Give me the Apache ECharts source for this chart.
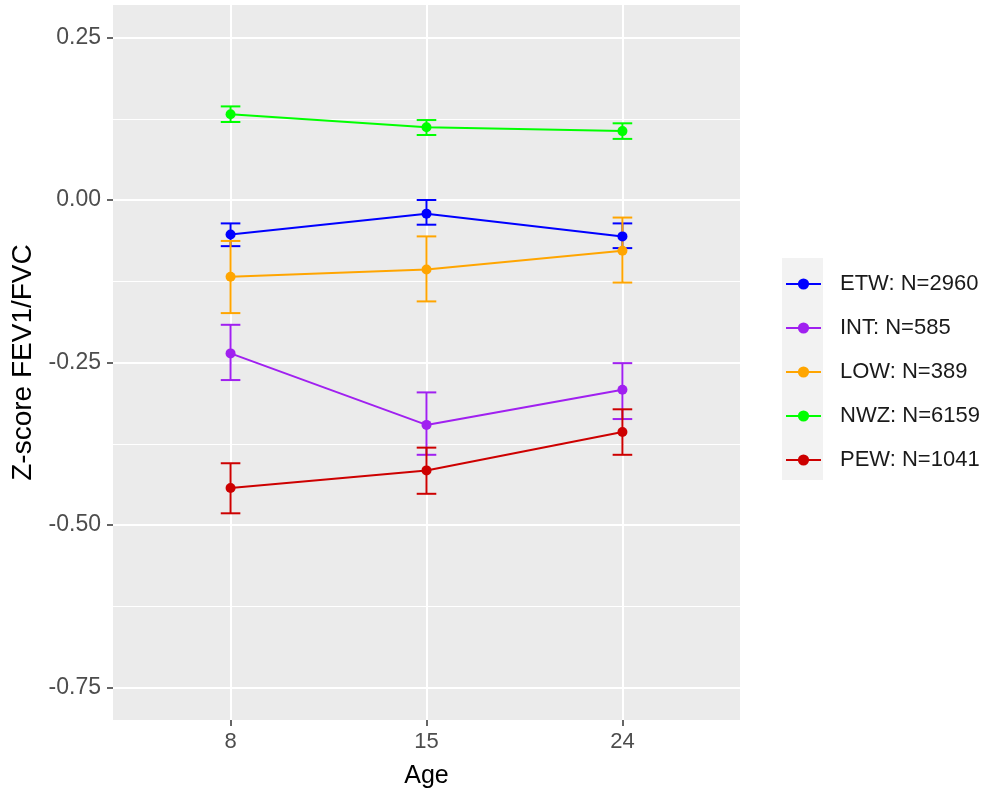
<!DOCTYPE html>
<html>
<head>
<meta charset="utf-8">
<script src="https://cdn.jsdelivr.net/npm/echarts@6/dist/echarts.min.js"></script>
<style>
html,body{margin:0;padding:0;background:#fff;}
#chart{width:988px;height:795px;}
</style>
</head>
<body>
<div id="chart"></div>
<script>
// ---- data ----
var ages = ['8', '15', '24'];
var groupNames = ['ETW: N=2960', 'INT: N=585', 'LOW: N=389', 'NWZ: N=6159', 'PEW: N=1041'];
var groupColors = ['#0000FF', '#A020F0', '#FFA500', '#00FF00', '#CD0000'];
var etwMean = [-0.053, -0.021, -0.056];
var etwLow  = [-0.071, -0.038, -0.074];
var etwHigh = [-0.036,  0.000, -0.036];
var intMean = [-0.236, -0.346, -0.292];
var intLow  = [-0.277, -0.392, -0.337];
var intHigh = [-0.192, -0.296, -0.251];
var lowMean = [-0.118, -0.107, -0.078];
var lowLow  = [-0.174, -0.156, -0.127];
var lowHigh = [-0.063, -0.056, -0.027];
var nwzMean = [0.132, 0.112, 0.106];
var nwzLow  = [0.120, 0.100, 0.094];
var nwzHigh = [0.144, 0.123, 0.118];
var pewMean = [-0.443, -0.416, -0.357];
var pewLow  = [-0.482, -0.452, -0.392];
var pewHigh = [-0.405, -0.381, -0.322];
var yTicks = [-0.75, -0.5, -0.25, 0, 0.25];
var yMinorTicks = [-0.625, -0.375, -0.125, 0.125];

var means = [etwMean, intMean, lowMean, nwzMean, pewMean];
var lows = [etwLow, intLow, lowLow, nwzLow, pewLow];
var highs = [etwHigh, intHigh, lowHigh, nwzHigh, pewHigh];

var chart = echarts.init(document.getElementById('chart'), null, {renderer: 'canvas'});

var FONT = '"Liberation Sans", Arial, sans-serif';
var series = [];
// error bars
groupNames.forEach(function (name, g) {
  var data = ages.map(function (a, i) { return [i + 1, lows[g][i], highs[g][i]]; });
  series.push({
    type: 'custom',
    name: name + ' (error)',
    xAxisIndex: 0, yAxisIndex: 0,
    z: 2,
    silent: true,
    color: groupColors[g],
    data: data,
    renderItem: function (params, api) {
      var x = api.value(0);
      var lo = api.coord([x, api.value(1)]);
      var hi = api.coord([x, api.value(2)]);
      var hw = api.size([0.1, 0])[0] / 2;
      var st = {stroke: groupColors[g], lineWidth: 2, fill: null};
      return {
        type: 'group',
        children: [
          {type: 'line', shape: {x1: lo[0], y1: lo[1], x2: hi[0], y2: hi[1]}, style: st},
          {type: 'line', shape: {x1: lo[0] - hw, y1: lo[1], x2: lo[0] + hw, y2: lo[1]}, style: st},
          {type: 'line', shape: {x1: hi[0] - hw, y1: hi[1], x2: hi[0] + hw, y2: hi[1]}, style: st}
        ]
      };
    }
  });
});
// lines + points
groupNames.forEach(function (name, g) {
  series.push({
    type: 'line',
    name: name,
    xAxisIndex: 0, yAxisIndex: 0,
    z: 3,
    data: ages.map(function (a, i) { return [i + 1, means[g][i]]; }),
    color: groupColors[g],
    symbol: 'circle',
    symbolSize: 10,
    showSymbol: true,
    lineStyle: {width: 2, color: groupColors[g]},
    itemStyle: {color: groupColors[g]},
    emphasis: {disabled: true},
    animation: false
  });
});

var option = {
  animation: false,
  backgroundColor: '#FFFFFF',
  grid: {left: 113, top: 5, width: 627, height: 715, show: true, backgroundColor: '#EBEBEB', borderWidth: 0, containLabel: false},
  xAxis: [{
    type: 'value',
    min: 0.4, max: 3.6,
    name: 'Age',
    nameLocation: 'middle',
    nameGap: 44,
    nameTextStyle: {fontFamily: FONT, fontSize: 25, color: '#000000'},
    axisLine: {show: false, onZero: false},
    axisTick: {show: true, customValues: [1, 2, 3], length: 6, lineStyle: {color: '#333333', width: 1.5}},
    axisLabel: {customValues: [1, 2, 3], formatter: function (v) { return ages[Math.round(v) - 1]; }, fontFamily: FONT, fontSize: 22, color: '#4D4D4D', margin: 11},
    splitLine: {show: true, lineStyle: {color: '#FFFFFF', width: 2}}
  }],
  yAxis: [{
    type: 'value',
    min: -0.8, max: 0.3,
    name: 'Z-score FEV1/FVC',
    nameLocation: 'middle',
    nameGap: 65,
    nameTextStyle: {fontFamily: FONT, fontSize: 28, color: '#000000'},
    axisLine: {show: false, onZero: false},
    axisTick: {show: true, customValues: yTicks, length: 6, lineStyle: {color: '#333333', width: 1.5}},
    axisLabel: {customValues: yTicks, formatter: function (v) { return v.toFixed(2); }, fontFamily: FONT, fontSize: 23, color: '#4D4D4D', margin: 12},
    splitLine: {show: true, lineStyle: {color: '#FFFFFF', width: 2}}
  }, {
    type: 'value',
    min: -0.8, max: 0.3,
    position: 'left',
    axisLine: {show: false, onZero: false},
    axisTick: {show: false, customValues: yMinorTicks},
    axisLabel: {show: false, customValues: yMinorTicks},
    splitLine: {show: true, lineStyle: {color: '#FFFFFF', width: 1}}
  }],
  legend: {
    orient: 'vertical',
    left: 785,
    top: 273,
    padding: 0,
    data: groupNames.map(function (n) { return {name: n}; }),
    itemWidth: 35,
    itemHeight: 14,
    itemGap: 22,
    selectedMode: false,
    textStyle: {fontFamily: FONT, fontSize: 22, color: '#1A1A1A', padding: [0, 0, 0, 14]}
  },
  graphic: [{
    type: 'rect',
    left: 782, top: 258,
    shape: {width: 41, height: 222},
    style: {fill: '#F2F2F2'},
    z: -1
  }],
  series: series
};
chart.setOption(option);
</script>
</body>
</html>
